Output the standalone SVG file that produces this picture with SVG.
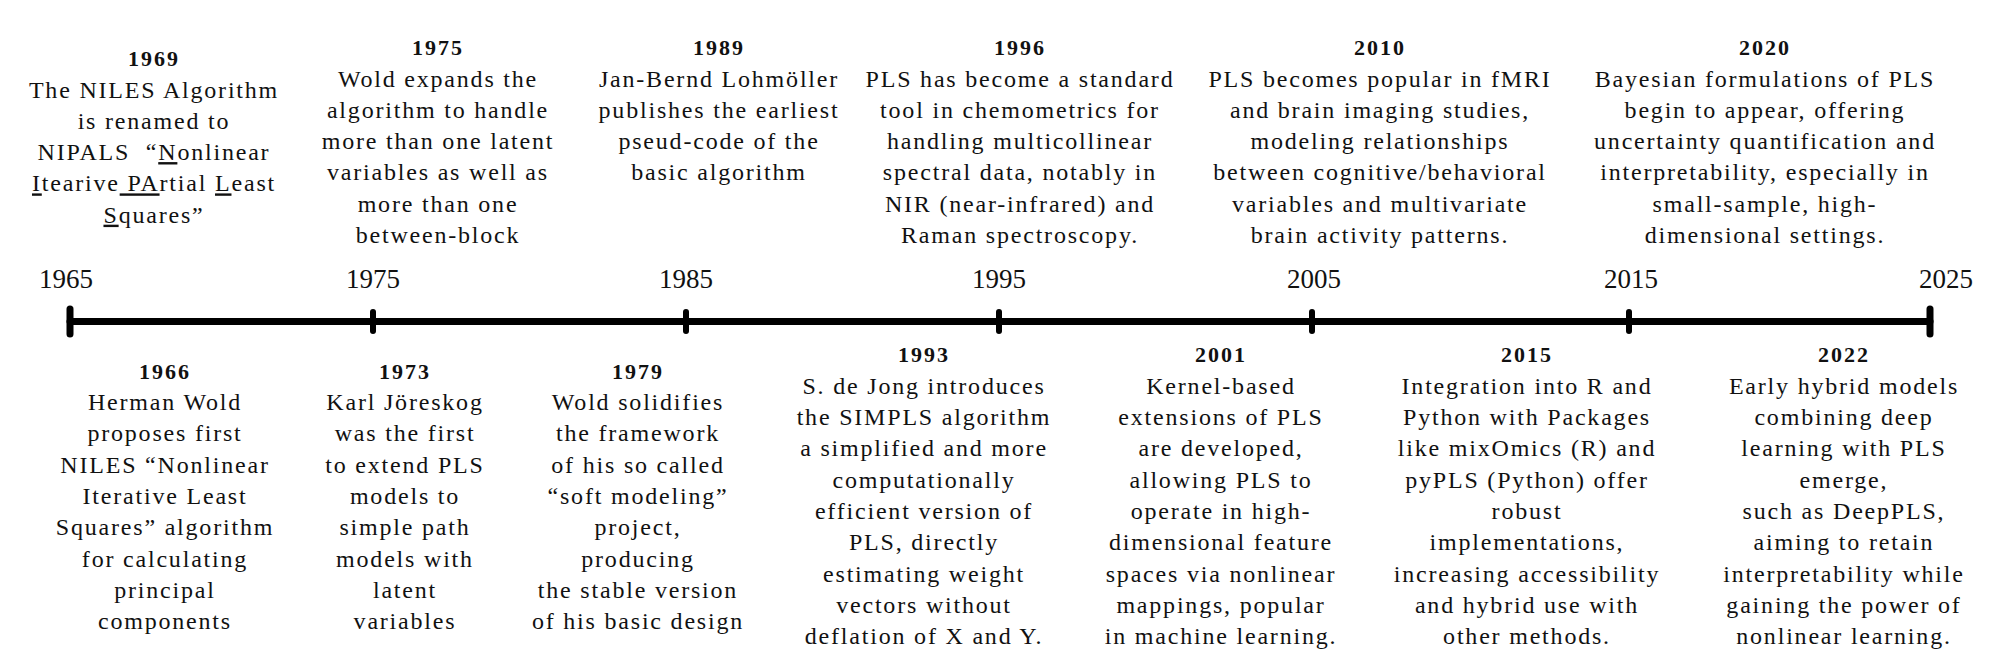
<svg xmlns="http://www.w3.org/2000/svg" width="2000" height="667" viewBox="0 0 2000 667">
<style>
.yr{font-family:"Liberation Serif",serif;font-weight:bold;font-size:22px;letter-spacing:2px;text-anchor:middle;fill:#111}
.tx{font-family:"Liberation Serif",serif;font-size:24px;letter-spacing:1.8px;text-anchor:middle;fill:#111}
.ax{font-family:"Liberation Serif",serif;font-size:27px;text-anchor:middle;fill:#111}
.u{text-decoration:underline}
.bar{stroke:#000;stroke-width:7;stroke-linecap:round;fill:none}
.tk{stroke:#000;stroke-width:6;stroke-linecap:round;fill:none}
</style>
<rect width="2000" height="667" fill="#fff"/>
<g id="timeline">
<line class="bar" x1="70" y1="321.5" x2="1930" y2="321.5"/>
<line class="bar" x1="70" y1="309" x2="70" y2="334"/>
<line class="bar" x1="1930" y1="309" x2="1930" y2="334"/>
<line class="tk" x1="373" y1="312" x2="373" y2="331"/>
<line class="tk" x1="686" y1="312" x2="686" y2="331"/>
<line class="tk" x1="999" y1="312" x2="999" y2="331"/>
<line class="tk" x1="1312" y1="312" x2="1312" y2="331"/>
<line class="tk" x1="1629" y1="312" x2="1629" y2="331"/>
<text class="ax" x="66" y="288">1965</text>
<text class="ax" x="373" y="288">1975</text>
<text class="ax" x="686" y="288">1985</text>
<text class="ax" x="999" y="288">1995</text>
<text class="ax" x="1314" y="288">2005</text>
<text class="ax" x="1631" y="288">2015</text>
<text class="ax" x="1946" y="288">2025</text>
</g>
<g id="ev1969">
<text class="yr" x="154" y="66">1969</text>
<text class="tx" x="154" y="97.5">The NILES Algorithm</text>
<text class="tx" x="154" y="128.8">is renamed to</text>
<text class="tx" x="154" y="160.1">NIPALS &#160;“<tspan class="u">N</tspan>onlinear</text>
<text class="tx" x="154" y="191.4"><tspan class="u">I</tspan>tearive<tspan class="u"> PA</tspan>rtial <tspan class="u">L</tspan>east</text>
<text class="tx" x="154" y="222.7"><tspan class="u">S</tspan>quares”</text>
</g>
<g id="ev1975">
<text class="yr" x="438" y="55">1975</text>
<text class="tx" x="438" y="86.5">Wold expands the</text>
<text class="tx" x="438" y="117.8">algorithm to handle</text>
<text class="tx" x="438" y="149.1">more than one latent</text>
<text class="tx" x="438" y="180.4">variables as well as</text>
<text class="tx" x="438" y="211.7">more than one</text>
<text class="tx" x="438" y="243">between-block</text>
</g>
<g id="ev1989">
<text class="yr" x="719" y="55">1989</text>
<text class="tx" x="719" y="86.5">Jan-Bernd Lohmöller</text>
<text class="tx" x="719" y="117.8">publishes the earliest</text>
<text class="tx" x="719" y="149.1">pseud-code of the</text>
<text class="tx" x="719" y="180.4">basic algorithm</text>
</g>
<g id="ev1996">
<text class="yr" x="1020" y="55">1996</text>
<text class="tx" x="1020" y="86.5">PLS has become a standard</text>
<text class="tx" x="1020" y="117.8">tool in chemometrics for</text>
<text class="tx" x="1020" y="149.1">handling multicollinear</text>
<text class="tx" x="1020" y="180.4">spectral data, notably in</text>
<text class="tx" x="1020" y="211.7">NIR (near-infrared) and</text>
<text class="tx" x="1020" y="243">Raman spectroscopy.</text>
</g>
<g id="ev2010">
<text class="yr" x="1380" y="55">2010</text>
<text class="tx" x="1380" y="86.5">PLS becomes popular in fMRI</text>
<text class="tx" x="1380" y="117.8">and brain imaging studies,</text>
<text class="tx" x="1380" y="149.1">modeling relationships</text>
<text class="tx" x="1380" y="180.4">between cognitive/behavioral</text>
<text class="tx" x="1380" y="211.7">variables and multivariate</text>
<text class="tx" x="1380" y="243">brain activity patterns.</text>
</g>
<g id="ev2020">
<text class="yr" x="1765" y="55">2020</text>
<text class="tx" x="1765" y="86.5">Bayesian formulations of PLS</text>
<text class="tx" x="1765" y="117.8">begin to appear, offering</text>
<text class="tx" x="1765" y="149.1">uncertainty quantification and</text>
<text class="tx" x="1765" y="180.4">interpretability, especially in</text>
<text class="tx" x="1765" y="211.7">small-sample, high-</text>
<text class="tx" x="1765" y="243">dimensional settings.</text>
</g>
<g id="ev1966">
<text class="yr" x="165" y="378.5">1966</text>
<text class="tx" x="165" y="410">Herman Wold</text>
<text class="tx" x="165" y="441.3">proposes first</text>
<text class="tx" x="165" y="472.6">NILES “Nonlinear</text>
<text class="tx" x="165" y="503.9">Iterative Least</text>
<text class="tx" x="165" y="535.2">Squares” algorithm</text>
<text class="tx" x="165" y="566.5">for calculating</text>
<text class="tx" x="165" y="597.8">principal</text>
<text class="tx" x="165" y="629.1">components</text>
</g>
<g id="ev1973">
<text class="yr" x="405" y="378.5">1973</text>
<text class="tx" x="405" y="410">Karl Jöreskog</text>
<text class="tx" x="405" y="441.3">was the first</text>
<text class="tx" x="405" y="472.6">to extend PLS</text>
<text class="tx" x="405" y="503.9">models to</text>
<text class="tx" x="405" y="535.2">simple path</text>
<text class="tx" x="405" y="566.5">models with</text>
<text class="tx" x="405" y="597.8">latent</text>
<text class="tx" x="405" y="629.1">variables</text>
</g>
<g id="ev1979">
<text class="yr" x="638" y="378.5">1979</text>
<text class="tx" x="638" y="410">Wold solidifies</text>
<text class="tx" x="638" y="441.3">the framework</text>
<text class="tx" x="638" y="472.6">of his so called</text>
<text class="tx" x="638" y="503.9">“soft modeling”</text>
<text class="tx" x="638" y="535.2">project,</text>
<text class="tx" x="638" y="566.5">producing</text>
<text class="tx" x="638" y="597.8">the stable version</text>
<text class="tx" x="638" y="629.1">of his basic design</text>
</g>
<g id="ev1993">
<text class="yr" x="924" y="362">1993</text>
<text class="tx" x="924" y="393.8">S. de Jong introduces</text>
<text class="tx" x="924" y="425.1">the SIMPLS algorithm</text>
<text class="tx" x="924" y="456.4">a simplified and more</text>
<text class="tx" x="924" y="487.7">computationally</text>
<text class="tx" x="924" y="519">efficient version of</text>
<text class="tx" x="924" y="550.3">PLS, directly</text>
<text class="tx" x="924" y="581.6">estimating weight</text>
<text class="tx" x="924" y="612.9">vectors without</text>
<text class="tx" x="924" y="644.2">deflation of X and Y.</text>
</g>
<g id="ev2001">
<text class="yr" x="1221" y="362">2001</text>
<text class="tx" x="1221" y="393.8">Kernel-based</text>
<text class="tx" x="1221" y="425.1">extensions of PLS</text>
<text class="tx" x="1221" y="456.4">are developed,</text>
<text class="tx" x="1221" y="487.7">allowing PLS to</text>
<text class="tx" x="1221" y="519">operate in high-</text>
<text class="tx" x="1221" y="550.3">dimensional feature</text>
<text class="tx" x="1221" y="581.6">spaces via nonlinear</text>
<text class="tx" x="1221" y="612.9">mappings, popular</text>
<text class="tx" x="1221" y="644.2">in machine learning.</text>
</g>
<g id="ev2015">
<text class="yr" x="1527" y="362">2015</text>
<text class="tx" x="1527" y="393.8">Integration into R and</text>
<text class="tx" x="1527" y="425.1">Python with Packages</text>
<text class="tx" x="1527" y="456.4">like mixOmics (R) and</text>
<text class="tx" x="1527" y="487.7">pyPLS (Python) offer</text>
<text class="tx" x="1527" y="519">robust</text>
<text class="tx" x="1527" y="550.3">implementations,</text>
<text class="tx" x="1527" y="581.6">increasing accessibility</text>
<text class="tx" x="1527" y="612.9">and hybrid use with</text>
<text class="tx" x="1527" y="644.2">other methods.</text>
</g>
<g id="ev2022">
<text class="yr" x="1844" y="362">2022</text>
<text class="tx" x="1844" y="393.8">Early hybrid models</text>
<text class="tx" x="1844" y="425.1">combining deep</text>
<text class="tx" x="1844" y="456.4">learning with PLS</text>
<text class="tx" x="1844" y="487.7">emerge,</text>
<text class="tx" x="1844" y="519">such as DeepPLS,</text>
<text class="tx" x="1844" y="550.3">aiming to retain</text>
<text class="tx" x="1844" y="581.6">interpretability while</text>
<text class="tx" x="1844" y="612.9">gaining the power of</text>
<text class="tx" x="1844" y="644.2">nonlinear learning.</text>
</g>
<g id="connectors"></g>
</svg>
